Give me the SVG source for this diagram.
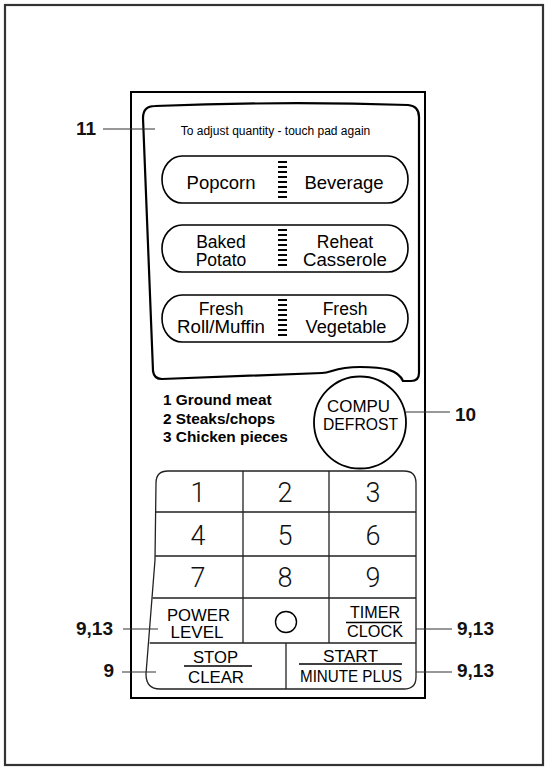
<svg xmlns="http://www.w3.org/2000/svg" width="548" height="767" viewBox="0 0 548 767">
<style>
.sans{font-family:"Liberation Sans",Arial,Helvetica,sans-serif;fill:#000}
.lbl{font-family:"Liberation Sans",Arial,Helvetica,sans-serif;font-weight:bold;font-size:19px;fill:#111}
.pt{font-size:18.5px;text-anchor:middle}
.pt2{font-size:17.5px;text-anchor:middle}
.key{font-size:17px;text-anchor:middle}
.dig{font-family:Roboto,"Open Sans","DejaVu Sans",sans-serif;font-weight:300;font-size:27px;text-anchor:middle;fill:#111}
.pill{fill:none;stroke:#000;stroke-width:1.6}
.bars{stroke:#000;stroke-width:1.8}
.lead{stroke:#333;stroke-width:1.2;fill:none}
.kp{fill:none;stroke:#222;stroke-width:1.3}
.frac{stroke:#000;stroke-width:1.3}
</style>
<defs>
<g id="bar8">
<path class="bars" d="M278,0H287M278,5H287M278,10H287M278,15H287M278,20H287M278,25H287M278,30H287M278,35H287"/>
</g>
</defs>
<rect id="frame" x="5" y="5" width="538" height="760" fill="#fff" stroke="#333" stroke-width="2.2"/>
<g id="panel">
<rect x="131" y="92" width="294" height="606" fill="none" stroke="#000" stroke-width="2"/>
</g>
<g id="auto-area">
<path d="M143,118 Q143,106 155,106 Q285,101 408,105 Q419,106 419,117 L419,373 Q419,381 411,381 L403,381 C398,370 385,367 360,367 C334,367 332,373 322,373 L162,379 Q154,379 153,371 Z" fill="none" stroke="#000" stroke-width="2.2"/>
<text class="sans" x="275.5" y="135" font-size="12" text-anchor="middle">To adjust quantity - touch pad again</text>
</g>
<g id="pill-popcorn-beverage">
<rect class="pill" x="162" y="156" width="246" height="47" rx="20" ry="23.5"/>
<use href="#bar8" y="162"/>
<text class="sans pt" x="221" y="189">Popcorn</text>
<text class="sans pt" x="344" y="189">Beverage</text>
</g>
<g id="pill-potato-casserole">
<rect class="pill" x="162" y="225" width="246" height="47" rx="20" ry="23.5"/>
<use href="#bar8" y="230"/>
<text class="sans pt2" x="221" y="247.5">Baked</text>
<text class="sans pt2" x="221" y="265.5">Potato</text>
<text class="sans pt2" x="345" y="247.5">Reheat</text>
<text class="sans pt2" x="345" y="265.5" textLength="84" lengthAdjust="spacingAndGlyphs">Casserole</text>
</g>
<g id="pill-roll-vegetable">
<rect class="pill" x="162" y="295" width="246" height="47" rx="20" ry="23.5"/>
<use href="#bar8" y="300"/>
<text class="sans pt2" x="221" y="315">Fresh</text>
<text class="sans pt2" x="221" y="333" textLength="88" lengthAdjust="spacingAndGlyphs">Roll/Muffin</text>
<text class="sans pt2" x="345" y="315">Fresh</text>
<text class="sans pt2" x="346" y="333" textLength="81" lengthAdjust="spacingAndGlyphs">Vegetable</text>
</g>
<g id="defrost-list" class="sans" font-weight="bold" font-size="15.4">
<text x="163" y="405">1 Ground meat</text>
<text x="163" y="423.5">2 Steaks/chops</text>
<text x="163" y="442">3 Chicken pieces</text>
</g>
<g id="compu-defrost">
<circle cx="360" cy="422.5" r="46" fill="none" stroke="#000" stroke-width="1.8"/>
<text class="sans key" x="358.5" y="412" font-size="16.5" textLength="63" lengthAdjust="spacingAndGlyphs">COMPU</text>
<text class="sans key" x="360.5" y="430" font-size="16.5" textLength="75" lengthAdjust="spacingAndGlyphs">DEFROST</text>
</g>
<g id="keypad">
<path class="kp" d="M156,483 Q156,471 168,471 L404,471 Q416,471 416,483 L416,677 Q416,689 404,689 L160,689 Q146,689 146,674 L155,560 Z"/>
<path class="kp" d="M155.5,512H416M155,556H416M152.5,598H416M149.7,643H416M243,471V643M329,471V643M286,643V689"/>
</g>
<g id="key-digits">
<text class="dig" x="198" y="502">1</text>
<text class="dig" x="285" y="502">2</text>
<text class="dig" x="373" y="502">3</text>
<text class="dig" x="198" y="545">4</text>
<text class="dig" x="285" y="545">5</text>
<text class="dig" x="373" y="545">6</text>
<text class="dig" x="198" y="587">7</text>
<text class="dig" x="285" y="587">8</text>
<text class="dig" x="373" y="587">9</text>
</g>
<g id="key-power-level">
<text class="sans key" x="198.5" y="621" textLength="63" lengthAdjust="spacingAndGlyphs">POWER</text>
<text class="sans key" x="197" y="638" textLength="53" lengthAdjust="spacingAndGlyphs">LEVEL</text>
</g>
<g id="key-zero">
<circle cx="286" cy="622" r="10.5" fill="none" stroke="#000" stroke-width="1.4"/>
</g>
<g id="key-timer-clock">
<text class="sans key" x="375" y="618" textLength="50" lengthAdjust="spacingAndGlyphs">TIMER</text>
<line class="frac" x1="346" y1="622.5" x2="402" y2="622.5"/>
<text class="sans key" x="375" y="637" textLength="56" lengthAdjust="spacingAndGlyphs">CLOCK</text>
</g>
<g id="key-stop-clear">
<text class="sans key" x="215.5" y="663" textLength="45" lengthAdjust="spacingAndGlyphs">STOP</text>
<line class="frac" x1="184" y1="666" x2="252" y2="666"/>
<text class="sans key" x="216" y="682.5" textLength="56" lengthAdjust="spacingAndGlyphs">CLEAR</text>
</g>
<g id="key-start-minute-plus">
<text class="sans key" x="350.5" y="661.5" textLength="55" lengthAdjust="spacingAndGlyphs">START</text>
<line class="frac" x1="299" y1="664" x2="402" y2="664"/>
<text class="sans key" x="351" y="682" textLength="102" lengthAdjust="spacingAndGlyphs">MINUTE PLUS</text>
</g>
<g id="connectors">
<line class="lead" x1="103" y1="129" x2="155" y2="129"/>
<line class="lead" x1="406" y1="412" x2="450" y2="412"/>
<line class="lead" x1="123" y1="629" x2="158" y2="629"/>
<line class="lead" x1="416" y1="629" x2="452" y2="629"/>
<line class="lead" x1="122" y1="672" x2="156" y2="672"/>
<line class="lead" x1="416" y1="672" x2="452" y2="672"/>
</g>
<g id="labels">
<text class="lbl" x="96" y="135" text-anchor="end">11</text>
<text class="lbl" x="455" y="421">10</text>
<text class="lbl" x="113" y="635" text-anchor="end">9,13</text>
<text class="lbl" x="457" y="635">9,13</text>
<text class="lbl" x="114" y="677" text-anchor="end">9</text>
<text class="lbl" x="457" y="677">9,13</text>
</g>
</svg>
